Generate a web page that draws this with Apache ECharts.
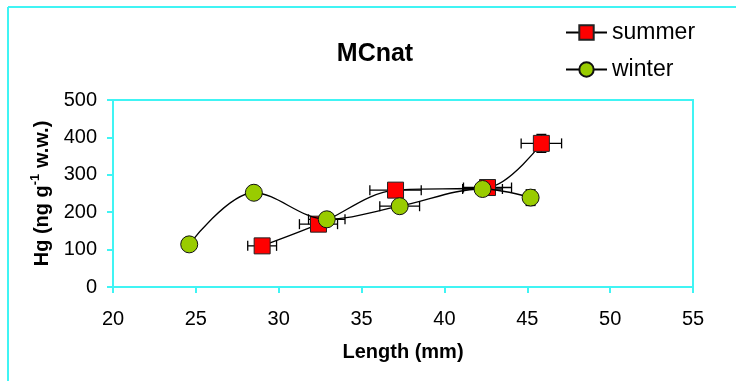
<!DOCTYPE html>
<html>
<head>
<meta charset="utf-8">
<style>
  html, body { margin: 0; padding: 0; background: #fff; }
  #chart { width: 736px; height: 381px; }
</style>
<script src="https://cdn.jsdelivr.net/npm/echarts@6/dist/echarts.min.js"></script>
</head>
<body>
<div id="chart"></div>
<script>
// Hg concentration versus body length, MCnat site
const xTicks = [20, 25, 30, 35, 40, 45, 50, 55];
const yTicks = [0, 100, 200, 300, 400, 500];

const summerLength = [29.0, 32.4, 37.05, 42.6, 45.85];
const summerHg = [110, 168, 259, 266, 384];
const summerLengthErr = [0.87, 1.15, 1.55, 1.45, 1.22];
const summerHgErr = [0, 0, 0, 0, 24];

const winterLength = [24.6, 28.5, 32.9, 37.3, 42.3, 45.2];
const winterHg = [114, 252, 181, 216, 262, 239];
const winterLengthErr = [0, 0, 1.1, 1.2, 1.2, 0];
const winterHgErr = [0, 0, 0, 0, 0, 21];

const FONT = '"Liberation Sans", Arial, sans-serif';
const CYAN = '#40f4f4';

const pairs = (xs, ys) => xs.map((x, i) => [x, ys[i]]);
const errRows = (xs, ys, ex, ey) => xs.map((x, i) => [x, ys[i], ex[i], ey[i]]);

// horizontal / vertical error bars with end caps
function renderErr(params, api) {
  const x = api.value(0), y = api.value(1), ex = api.value(2), ey = api.value(3);
  const cap = 5;
  const style = { stroke: '#000', lineWidth: 1.3 };
  const children = [];
  if (ex > 0) {
    const l = api.coord([x - ex, y]);
    const r = api.coord([x + ex, y]);
    children.push(
      { type: 'line', shape: { x1: l[0], y1: l[1], x2: r[0], y2: r[1] }, style },
      { type: 'line', shape: { x1: l[0], y1: l[1] - cap, x2: l[0], y2: l[1] + cap }, style },
      { type: 'line', shape: { x1: r[0], y1: r[1] - cap, x2: r[0], y2: r[1] + cap }, style }
    );
  }
  if (ey > 0) {
    const t = api.coord([x, y + ey]);
    const b = api.coord([x, y - ey]);
    children.push(
      { type: 'line', shape: { x1: t[0], y1: t[1], x2: b[0], y2: b[1] }, style },
      { type: 'line', shape: { x1: t[0] - cap, y1: t[1], x2: t[0] + cap, y2: t[1] }, style },
      { type: 'line', shape: { x1: b[0] - cap, y1: b[1], x2: b[0] + cap, y2: b[1] }, style }
    );
  }
  return { type: 'group', children };
}

const chart = echarts.init(document.getElementById('chart'), null, { renderer: 'canvas' });

chart.setOption({
  animation: false,
  backgroundColor: '#fff',
  textStyle: { fontFamily: FONT },
  title: {
    text: 'MCnat',
    left: 370,
    top: 37,
    textAlign: 'center',
    textStyle: { fontFamily: FONT, fontSize: 25, fontWeight: 'bold', color: '#000' }
  },
  legend: {
    orient: 'vertical',
    left: 560,
    top: 16,
    itemWidth: 41,
    itemHeight: 18,
    itemGap: 14,
    data: ['summer', 'winter'],
    textStyle: { fontFamily: FONT, fontSize: 23, color: '#000' }
  },
  graphic: [
    { type: 'line', shape: { x1: 8, y1: 7, x2: 736, y2: 7 }, style: { stroke: CYAN, lineWidth: 2 } },
    { type: 'line', shape: { x1: 8, y1: 7, x2: 8, y2: 381 }, style: { stroke: CYAN, lineWidth: 2 } }
  ],
  grid: {
    left: 113, right: 43, top: 100, bottom: 94,
    show: true, borderColor: CYAN, borderWidth: 2, backgroundColor: '#fff'
  },
  xAxis: {
    type: 'value',
    min: xTicks[0], max: xTicks[xTicks.length - 1], interval: 5,
    name: 'Length (mm)',
    nameLocation: 'middle',
    nameGap: 55,
    nameTextStyle: { fontFamily: FONT, fontSize: 20, fontWeight: 'bold', color: '#000' },
    axisLine: { show: true, lineStyle: { color: CYAN, width: 2 } },
    axisTick: { show: true, inside: false, length: 6, lineStyle: { color: CYAN, width: 2 } },
    axisLabel: { margin: 22, fontFamily: FONT, fontSize: 20, color: '#000' },
    splitLine: { show: false }
  },
  yAxis: {
    type: 'value',
    min: yTicks[0], max: yTicks[yTicks.length - 1], interval: 100,
    name: 'Hg (ng g{sup|-1} w.w.)',
    nameLocation: 'middle',
    nameGap: 58,
    nameTextStyle: {
      fontFamily: FONT, fontSize: 20, fontWeight: 'bold', color: '#000',
      rich: {
        sup: { fontFamily: FONT, fontSize: 13, fontWeight: 'bold', color: '#000', verticalAlign: 'top', lineHeight: 26 }
      }
    },
    axisLine: { show: true, lineStyle: { color: CYAN, width: 2 } },
    axisTick: { show: true, inside: false, length: 6, lineStyle: { color: CYAN, width: 2 } },
    axisLabel: { margin: 16, fontFamily: FONT, fontSize: 20, color: '#000' },
    splitLine: { show: false }
  },
  series: [
    {
      name: 'summer-err',
      type: 'custom',
      renderItem: renderErr,
      data: errRows(summerLength, summerHg, summerLengthErr, summerHgErr),
      encode: { x: 0, y: 1 },
      z: 1,
      silent: true
    },
    {
      name: 'winter-err',
      type: 'custom',
      renderItem: renderErr,
      data: errRows(winterLength, winterHg, winterLengthErr, winterHgErr),
      encode: { x: 0, y: 1 },
      z: 1,
      silent: true
    },
    {
      name: 'summer',
      type: 'line',
      data: pairs(summerLength, summerHg),
      smooth: 0.35,
      symbol: 'rect',
      symbolSize: 16,
      showAllSymbol: true,
      lineStyle: { color: '#000', width: 1.3 },
      itemStyle: { color: '#ff0000', borderColor: '#222', borderWidth: 1 },
      z: 2
    },
    {
      name: 'winter',
      type: 'line',
      data: pairs(winterLength, winterHg),
      smooth: 0.35,
      symbol: 'circle',
      symbolSize: 17,
      showAllSymbol: true,
      lineStyle: { color: '#000', width: 1.3 },
      itemStyle: { color: '#99cc00', borderColor: '#111', borderWidth: 1 },
      z: 3
    }
  ]
});
</script>
</body>
</html>
